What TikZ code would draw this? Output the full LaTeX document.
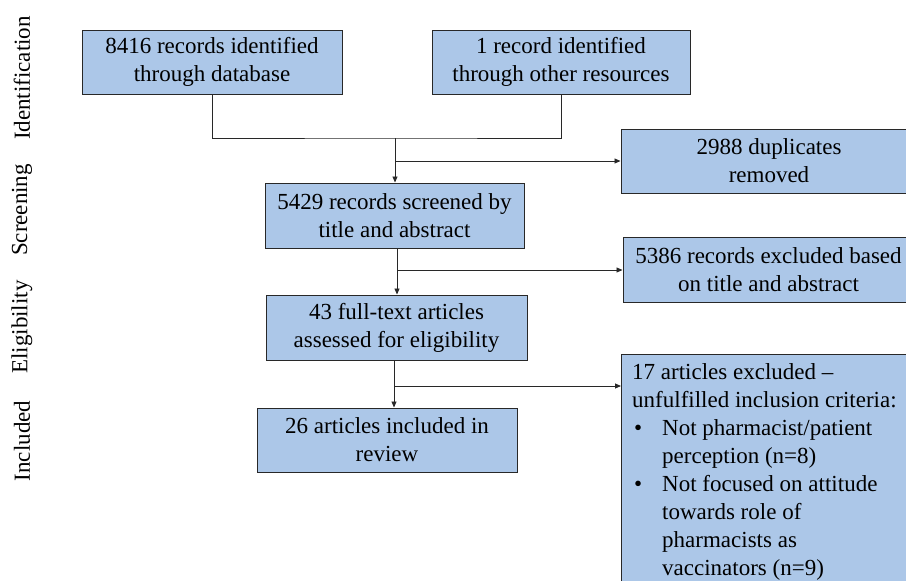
\documentclass[tikz,border=0pt]{standalone}
\usepackage{fontspec}
\setmainfont{Liberation Serif}
\usetikzlibrary{arrows.meta}
\definecolor{boxfill}{RGB}{172,199,232}
\definecolor{lineclr}{RGB}{40,40,40}
\begin{document}
\begin{tikzpicture}[x=1pt,y=-1pt,
  box/.style={draw=lineclr,line width=1pt,fill=boxfill,align=center,inner sep=0pt,
    font=\fontsize{23}{28}\selectfont},
  conn/.style={draw=lineclr,line width=0.9pt},
  arr/.style={conn,-{Triangle[length=6pt,width=5pt]}},
  phase/.style={rotate=90,font=\fontsize{23}{25}\selectfont}]
\useasboundingbox (0,0) rectangle (906,581);
\clip (0,0) rectangle (906,581);
\node[box,minimum width=260pt,minimum height=64pt] (a) at (212,62) {8416 records identified\\through database};
\node[box,minimum width=258pt,minimum height=64pt] (b) at (561,62) {1 record identified\\through other resources};
\node[box,minimum width=259pt,minimum height=65pt] (c) at (394.5,215.5) {5429 records screened by\\title and abstract};
\node[box,minimum width=296pt,minimum height=64pt] (d) at (769,161) {2988 duplicates\\removed};
\node[box,minimum width=261pt,minimum height=65pt] (e) at (396.5,327.5) {43 full-text articles\\assessed for eligibility};
\node[box,minimum width=291pt,minimum height=65pt] (f) at (768.5,269.5) {5386 records excluded based\\on title and abstract};
\node[box,minimum width=260pt,minimum height=64pt] (g) at (387,440) {26 articles included in\\review};
\node[box,minimum width=296pt,minimum height=250pt,anchor=north west] (h) at (621,354) {};
\node[anchor=north west,align=left,inner sep=0pt,font=\fontsize{23}{28}\selectfont] (ht) at (632,363)
  {17 articles excluded --\\
   unfulfilled inclusion criteria:\\
   \makebox[30pt][l]{\hspace{2pt}\textbullet}Not pharmacist/patient\\
   \hspace*{30pt}perception (n=8)\\
   \makebox[30pt][l]{\hspace{2pt}\textbullet}Not focused on attitude\\
   \hspace*{30pt}towards role of\\
   \hspace*{30pt}pharmacists as\\
   \hspace*{30pt}vaccinators (n=9)};
\node[phase] (p1) at (22,78) {Identification};
\node[phase] (p2) at (22,210) {Screening};
\node[phase] (p3) at (22,327) {Eligibility};
\node[phase] (p4) at (22,441) {Included};
\coordinate (j1) at (395,138);
\coordinate (j2) at (395,161);
\coordinate (j3) at (397,270);
\coordinate (j4) at (394,386);
\draw[conn] (a.south) |- (j1) -| (b.south);
\draw[arr] (j1) -- (j1 |- c.north);
\draw[arr] (j2) -- (j2 -| d.west);
\draw[arr] (j3 |- c.south) -- (j3 |- e.north);
\draw[arr] (j3) -- (j3 -| f.west);
\draw[arr] (j4 |- e.south) -- (j4 |- g.north);
\draw[arr] (j4) -- (j4 -| h.west);
\end{tikzpicture}
\end{document}
